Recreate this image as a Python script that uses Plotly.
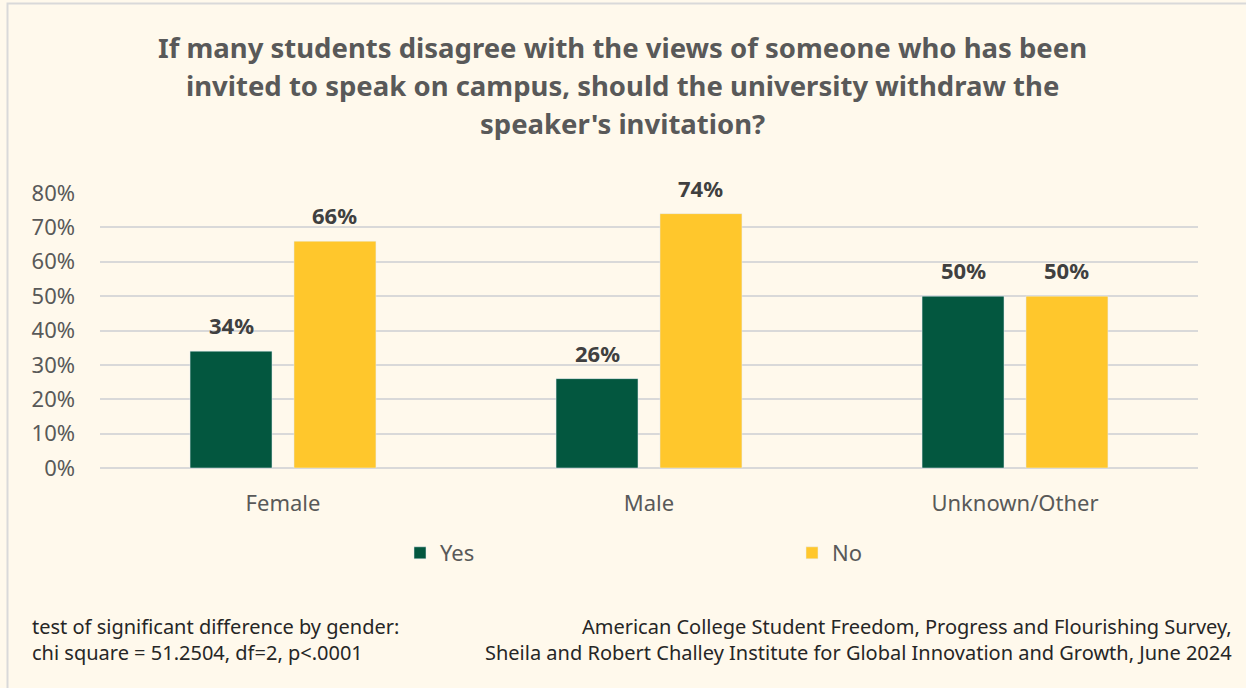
import plotly.graph_objects as go

# Survey responses by gender (percent of respondents)
categories = ["Female", "Male", "Unknown/Other"]
yes_pct = [34, 26, 50]
no_pct = [66, 74, 50]
y_ticks = [0, 10, 20, 30, 40, 50, 60, 70, 80]
title_lines = [
    "If many students disagree with the views of someone who has been",
    "invited to speak on campus, should the university withdraw the",
    "speaker's invitation?",
]

W, H = 1246, 688
BG = "#FFF9EC"
GREEN = "#03573F"
YELLOW = "#FFC72C"
GRAY = "#595959"
FONT = "Noto Sans"

PLOT_L, PLOT_R = 100, 1198
PLOT_T, PLOT_B = 193, 468
BARGAP, BARGROUPGAP = 0.432, 0.2115


def px_x(p):
    return p / W


def px_y(p):
    return 1 - p / H


fig = go.Figure()
fig.add_trace(go.Bar(name="Yes", x=categories, y=yes_pct, marker_color=GREEN))
fig.add_trace(go.Bar(name="No", x=categories, y=no_pct, marker_color=YELLOW))

# value labels above each bar, offset to the centre of its slot in the group
cat_px = (PLOT_R - PLOT_L) / len(categories)
slot_px = cat_px * (1 - BARGAP) / 2
for series, sign in ((yes_pct, -1), (no_pct, 1)):
    for cat, v in zip(categories, series):
        fig.add_annotation(
            x=cat, y=v, xref="x", yref="y", text=f"{v}%", showarrow=False,
            xanchor="center", yanchor="middle",
            xshift=sign * slot_px / 2, yshift=26,
            font=dict(family=FONT, size=22, color="#404040", weight="bold"),
        )

fig.update_layout(
    width=W, height=H,
    margin=dict(l=0, r=0, t=0, b=0, autoexpand=False),
    paper_bgcolor=BG, plot_bgcolor=BG,
    barmode="group", bargap=BARGAP, bargroupgap=BARGROUPGAP,
    font=dict(family=FONT, color=GRAY, size=22),
    showlegend=True,
    legend=dict(
        orientation="h", x=px_x(400), y=px_y(553), xanchor="left", yanchor="middle",
        entrywidth=347, entrywidthmode="pixels",
        font=dict(family=FONT, size=22, color=GRAY),
        bgcolor="rgba(0,0,0,0)", itemwidth=30,
    ),
    xaxis=dict(
        domain=[px_x(PLOT_L), px_x(PLOT_R)],
        showgrid=False, showline=False, ticks="", ticklabelstandoff=20,
        tickfont=dict(family=FONT, size=22, color=GRAY),
        automargin=False,
    ),
    yaxis=dict(
        domain=[px_y(PLOT_B), px_y(PLOT_T)],
        range=[0, 80], tickvals=y_ticks,
        ticktext=[f"{v}%" for v in y_ticks],
        showgrid=True, gridcolor="#D9D9D9", gridwidth=1.5,
        zeroline=True, zerolinecolor="#D9D9D9", zerolinewidth=1.5,
        showline=False, ticks="", ticklabelstandoff=24,
        tickfont=dict(family=FONT, size=22, color=GRAY),
        automargin=False,
    ),
)

# frame around the chart area
fig.add_shape(
    type="rect", xref="paper", yref="paper",
    x0=px_x(7.5), x1=px_x(1260), y0=px_y(700), y1=px_y(3.5),
    line=dict(color="#D9D9D9", width=2), fillcolor="rgba(0,0,0,0)", layer="below",
)

for line, ypx in zip(title_lines, (47, 85, 124)):
    fig.add_annotation(
        text=line, xref="paper", yref="paper", x=px_x(622), y=px_y(ypx),
        xanchor="center", yanchor="middle", showarrow=False,
        font=dict(family=FONT, size=27.5, color=GRAY, weight="bold"),
    )

fig.add_annotation(
    text=("test of significant difference by gender:<br>"
          "chi square = 51.2504, df=2, p<.0001"),
    xref="paper", yref="paper", x=px_x(30), y=px_y(639),
    xanchor="left", yanchor="middle", showarrow=False, align="left",
    font=dict(family=FONT, size=20, color="#262626"),
)

fig.add_annotation(
    text=("American College Student Freedom, Progress and Flourishing Survey,<br>"
          "Sheila and Robert Challey Institute for Global Innovation and Growth, June 2024"),
    xref="paper", yref="paper", x=px_x(1234), y=px_y(639),
    xanchor="right", yanchor="middle", showarrow=False, align="right",
    font=dict(family=FONT, size=20, color="#262626"),
)

fig.write_html("out.html")
